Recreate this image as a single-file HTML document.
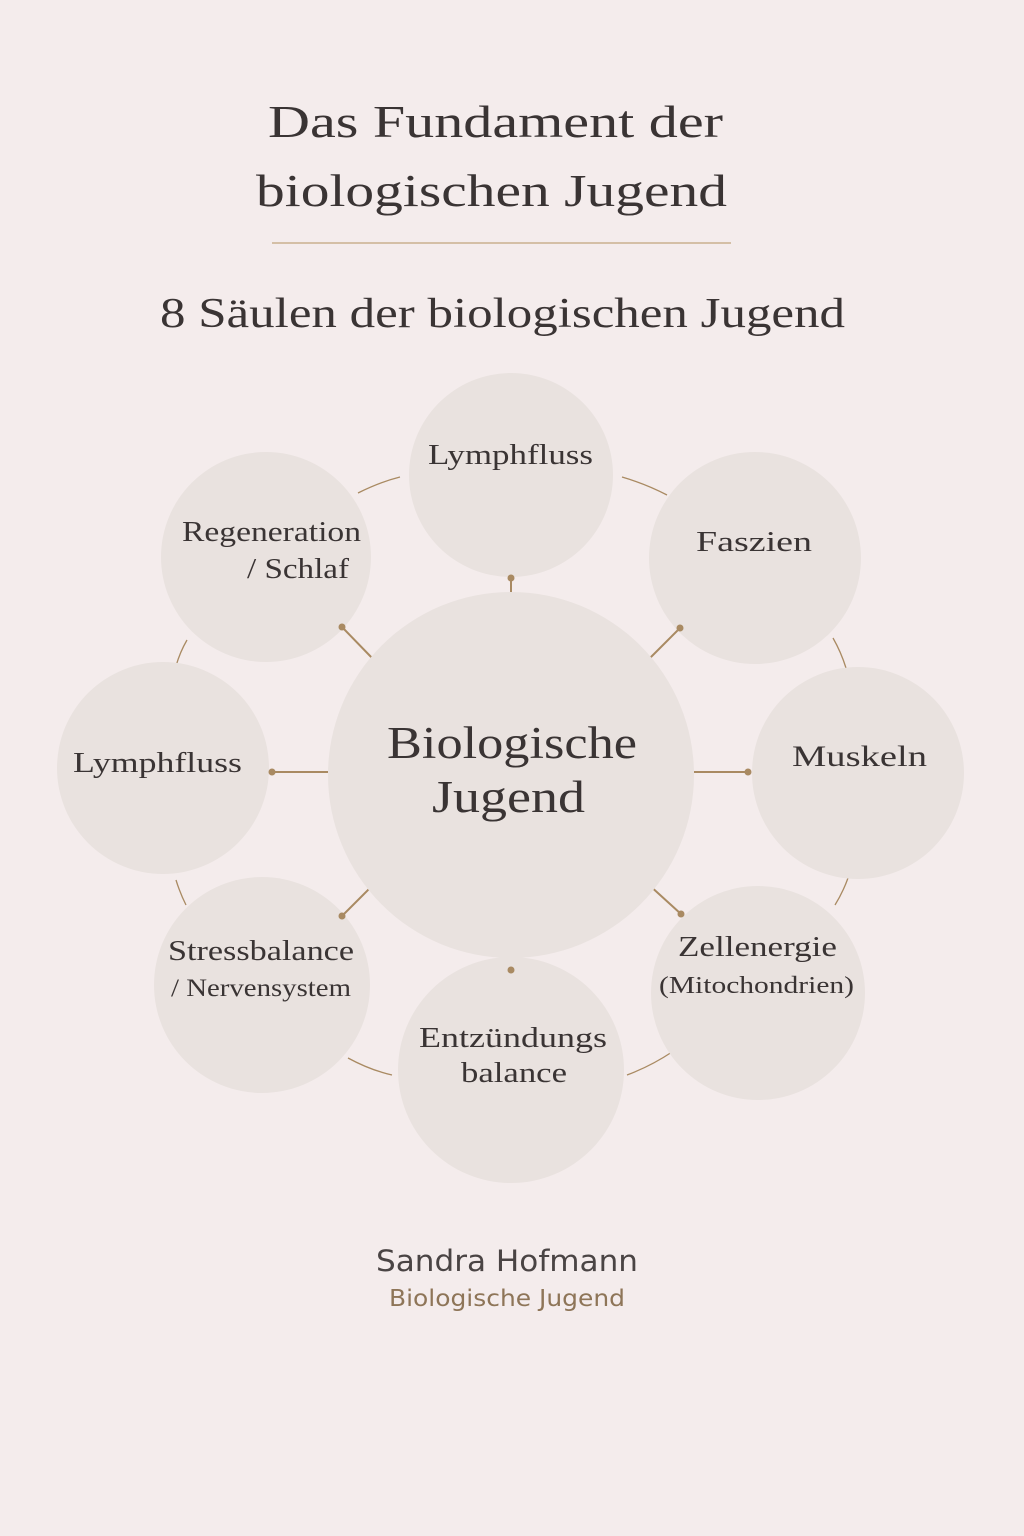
<!DOCTYPE html>
<html><head><meta charset="utf-8"><style>
html,body{margin:0;padding:0;background:#f4ecec;}
svg{display:block}
.t{font-family:"Liberation Serif",serif;fill:#3a3434}
.s{font-family:"DejaVu Sans","Liberation Sans",sans-serif}
</style></head><body>
<svg width="1024" height="1536" viewBox="0 0 1024 1536" xmlns="http://www.w3.org/2000/svg">
<rect width="1024" height="1536" fill="#f4ecec"/>
<g lengthAdjust="spacingAndGlyphs">
<text class="t" x="268" y="137" font-size="46" textLength="455" lengthAdjust="spacingAndGlyphs">Das Fundament der</text>
<text class="t" x="256" y="206" font-size="46" textLength="471" lengthAdjust="spacingAndGlyphs">biologischen Jugend</text>
</g>
<line x1="272" y1="243" x2="731" y2="243" stroke="#c9b08e" stroke-width="1.5"/>
<text class="t" x="160" y="327" font-size="42" textLength="685" lengthAdjust="spacingAndGlyphs">8 Säulen der biologischen Jugend</text>
<g stroke="#a98a62" stroke-width="2" fill="none">
<line x1="511" y1="578" x2="511" y2="606"/>
<line x1="694" y1="772" x2="749" y2="772"/>
<line x1="272" y1="772" x2="328" y2="772"/>
<line x1="342" y1="627" x2="374" y2="660"/>
<line x1="680" y1="628" x2="648" y2="660"/>
<line x1="342" y1="916" x2="374" y2="884"/>
<line x1="681" y1="914" x2="648" y2="884"/>
<line x1="511" y1="938" x2="511" y2="970"/>
<g stroke-width="1.3">
<path d="M358 493 Q380 482 400 477"/>
<path d="M622 477 Q646 484 667 495"/>
<path d="M833 638 Q841 652 846 668"/>
<path d="M848 878 Q843 892 835 905"/>
<path d="M627 1075 Q651 1066 672 1052"/>
<path d="M348 1058 Q370 1070 392 1075"/>
<path d="M176 880 Q180 893 186 905"/>
<path d="M176 666 Q180 652 187 640"/>
</g></g>
<g fill="#e9e2df">
<circle cx="511" cy="775" r="183"/>
<circle cx="511" cy="475" r="102"/>
<circle cx="755" cy="558" r="106"/>
<circle cx="858" cy="773" r="106"/>
<circle cx="758" cy="993" r="107"/>
<circle cx="511" cy="1070" r="113"/>
<circle cx="262" cy="985" r="108"/>
<circle cx="163" cy="768" r="106"/>
<circle cx="266" cy="557" r="105"/>
</g>
<g fill="#a98a62">
<circle cx="511" cy="578" r="3.5"/><circle cx="748" cy="772" r="3.5"/><circle cx="272" cy="772" r="3.5"/>
<circle cx="342" cy="627" r="3.5"/><circle cx="680" cy="628" r="3.5"/><circle cx="342" cy="916" r="3.5"/>
<circle cx="681" cy="914" r="3.5"/><circle cx="511" cy="970" r="3.5"/>
</g>
<text class="t" x="387" y="758" font-size="45" textLength="250" lengthAdjust="spacingAndGlyphs">Biologische</text>
<text class="t" x="432" y="812" font-size="45" textLength="153" lengthAdjust="spacingAndGlyphs">Jugend</text>
<text class="t" x="428" y="464" font-size="29" textLength="165" lengthAdjust="spacingAndGlyphs">Lymphfluss</text>
<text class="t" x="696" y="551" font-size="29" textLength="116" lengthAdjust="spacingAndGlyphs">Faszien</text>
<text class="t" x="792" y="766" font-size="30" textLength="135" lengthAdjust="spacingAndGlyphs">Muskeln</text>
<text class="t" x="678" y="956" font-size="28" textLength="159" lengthAdjust="spacingAndGlyphs">Zellenergie</text>
<text class="t" x="659" y="993" font-size="24" textLength="195" lengthAdjust="spacingAndGlyphs">(Mitochondrien)</text>
<text class="t" x="419" y="1047" font-size="29" textLength="188" lengthAdjust="spacingAndGlyphs">Entzündungs</text>
<text class="t" x="461" y="1082" font-size="29" textLength="106" lengthAdjust="spacingAndGlyphs">balance</text>
<text class="t" x="168" y="960" font-size="28" textLength="186" lengthAdjust="spacingAndGlyphs">Stressbalance</text>
<text class="t" x="171" y="996" font-size="25" textLength="180" lengthAdjust="spacingAndGlyphs">/ Nervensystem</text>
<text class="t" x="73" y="772" font-size="29" textLength="169" lengthAdjust="spacingAndGlyphs">Lymphfluss</text>
<text class="t" x="182" y="541" font-size="28" textLength="179" lengthAdjust="spacingAndGlyphs">Regeneration</text>
<text class="t" x="247" y="578" font-size="28" textLength="102" lengthAdjust="spacingAndGlyphs">/ Schlaf</text>
<text class="s" x="376" y="1271" font-size="29" fill="#4a4444" textLength="262" lengthAdjust="spacingAndGlyphs">Sandra Hofmann</text>
<text class="s" x="389" y="1306" font-size="23" fill="#8e7558" textLength="236" lengthAdjust="spacingAndGlyphs">Biologische Jugend</text>
</svg>
</body></html>
